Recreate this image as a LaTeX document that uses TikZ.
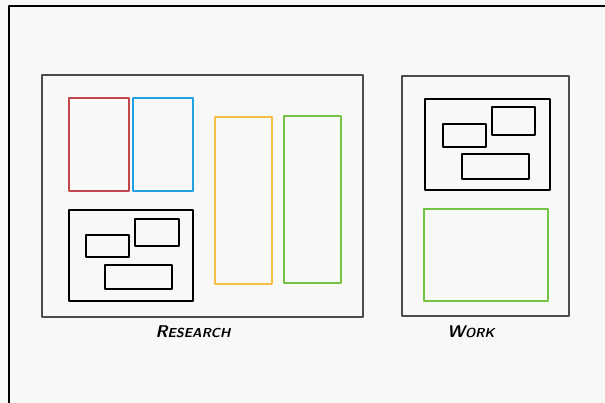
\documentclass[tikz,border=0pt]{standalone}
\definecolor{paper}{HTML}{F8F8F7}
\definecolor{sketchred}{HTML}{C0474C}
\definecolor{sketchblue}{HTML}{1FA2E3}
\definecolor{sketchyellow}{HTML}{F6BD45}
\definecolor{sketchgreen}{HTML}{72C442}
\begin{document}
\begin{tikzpicture}[x=1pt,y=-1pt,line join=round,line cap=round,
    panel/.style={draw=black!70,line width=1.1pt},
    card/.style={line width=1.9pt},
    tag/.style={font=\sffamily\bfseries\slshape,text=black,inner sep=0pt}]
  \fill[paper] (0,0) rectangle (605,403);
  \useasboundingbox (0,0) rectangle (605,403);
  % outer frame
  \draw[line width=2.2pt] (9,403) -- (9,6) -- (605,6);
  % research panel
  \draw[panel] (42,75) rectangle (363,317);
  \draw[card,sketchred] (69,98) rectangle (129,191);
  \draw[card,sketchblue] (133,98) rectangle (193,191);
  \draw[card,sketchyellow] (215,117) rectangle (272,284);
  \draw[card,sketchgreen] (284,116) rectangle (341,283);
  \draw[card] (69,210) rectangle (193,301);
  \draw[card] (86,235) rectangle (129,257);
  \draw[card] (135,219) rectangle (179,246);
  \draw[card] (105,265) rectangle (172,289);
  \node[tag] (research) at (193,332) {\fontsize{17}{17}\selectfont R\fontsize{13}{13}\selectfont ESEARCH};
  % work panel
  \draw[panel] (402,76) rectangle (569,316);
  \draw[card] (425,99) rectangle (550,190);
  \draw[card] (443,124) rectangle (486,147);
  \draw[card] (492,107) rectangle (535,135);
  \draw[card] (462,154) rectangle (529,179);
  \draw[card,sketchgreen] (424,209) rectangle (548,301);
  \node[tag] (work) at (471,332) {\fontsize{17}{17}\selectfont W\fontsize{13}{13}\selectfont ORK};
\end{tikzpicture}
\end{document}
